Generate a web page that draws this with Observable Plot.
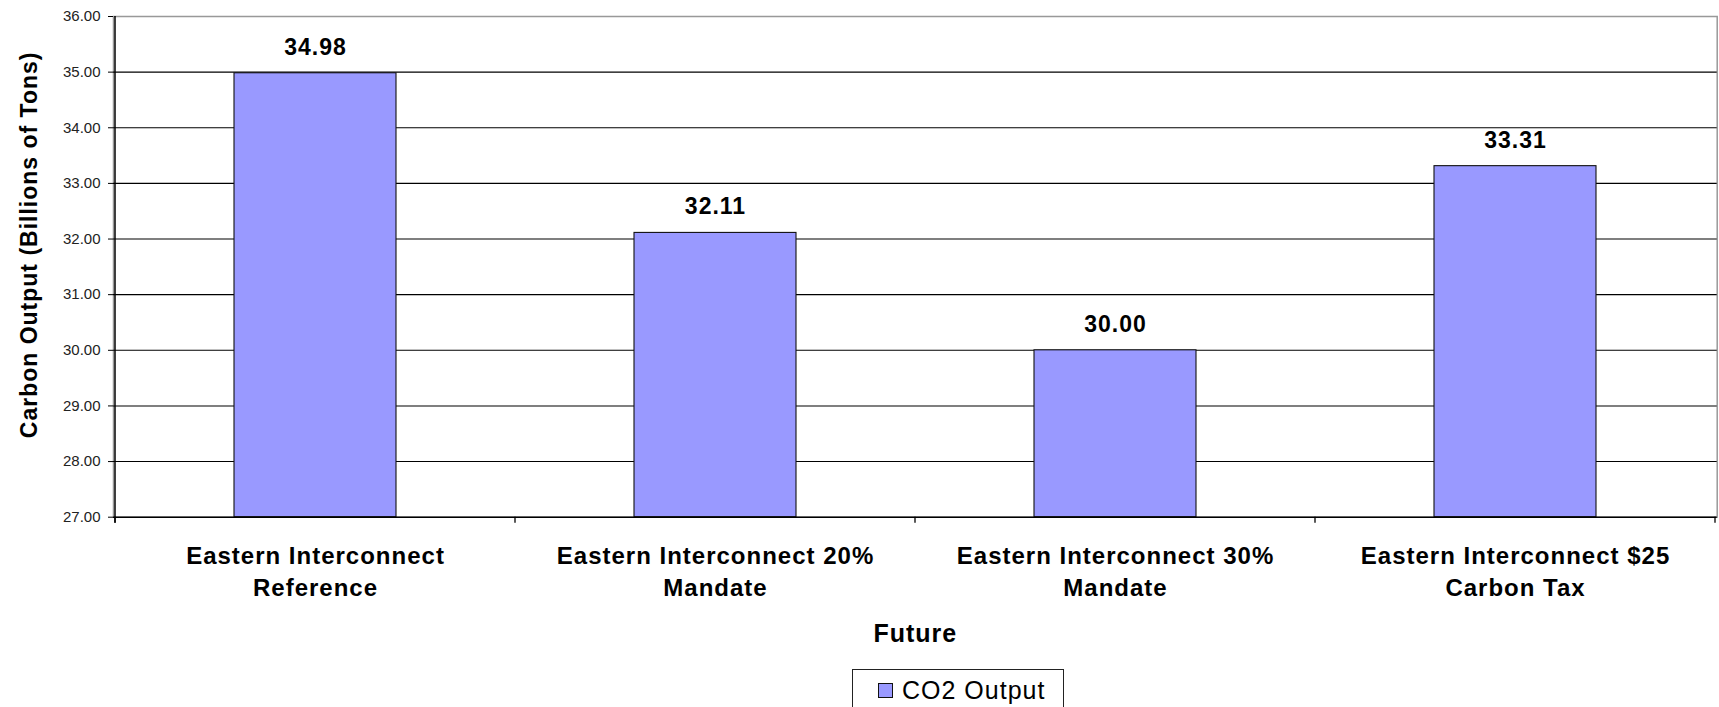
<!DOCTYPE html>
<html>
<head>
<meta charset="utf-8">
<script src="https://cdn.jsdelivr.net/npm/d3@7"></script>
<script src="https://cdn.jsdelivr.net/npm/@observablehq/plot@0.6"></script>
<style>
  html, body { margin: 0; padding: 0; background: #fff; overflow: hidden; }
  body { width: 1719px; height: 707px; position: relative; font-family: "Liberation Sans", Arial, Helvetica, sans-serif; }
  #chart svg text { letter-spacing: 1px; }
  #chart g[aria-label="y-axis tick label"] text { letter-spacing: 0; }
  #legend { position: absolute; left: 852px; top: 669px; width: 212px; height: 46px; border: 1px solid #222; box-sizing: border-box; background: #fff; }
  #legend .sw { position: absolute; left: 25px; top: 13px; width: 15px; height: 15px; box-sizing: border-box; border: 1px solid #111; background: #9999ff; }
  #legend .lb { position: absolute; left: 49px; top: 5px; font-size: 25px; line-height: 30px; letter-spacing: 1px; color: #000; white-space: nowrap; }
</style>
</head>
<body>
<div id="chart"></div>
<div id="legend"><div class="sw"></div><div class="lb"></div></div>
<script>
const categories = [
  "Eastern Interconnect\nReference",
  "Eastern Interconnect 20%\nMandate",
  "Eastern Interconnect 30%\nMandate",
  "Eastern Interconnect $25\nCarbon Tax"
];
const co2Output = [34.98, 32.11, 30.00, 33.31];
const yTicks = [27, 28, 29, 30, 31, 32, 33, 34, 35, 36];
const seriesName = "CO2 Output";
const yTitle = "Carbon Output (Billions of Tons)";
const xTitle = "Future";

const data = categories.map((c, i) => ({category: c, value: co2Output[i]}));
const fmt = d3.format(".2f");

const edgeMarks = (index, scales) => {
  const {x, y} = scales;
  const g = d3.create("svg:g");
  const y0 = y(yTicks[0]);
  const yTop = y(yTicks[yTicks.length - 1]);
  const edges = categories.map(c => x(c)).concat([x(categories[categories.length - 1]) + x.bandwidth()]);
  g.selectAll("line.t").data(edges).join("line")
    .attr("x1", d => d).attr("x2", d => d)
    .attr("y1", y0).attr("y2", y0 + 6)
    .attr("stroke", "#000").attr("stroke-width", 1.3);
  g.append("line")
    .attr("x1", edges[0]).attr("x2", edges[0])
    .attr("y1", yTop).attr("y2", y0 + 6)
    .attr("stroke", "#000").attr("stroke-width", 1.5);
  return g.node();
};

const chart = Plot.plot({
  width: 1719,
  height: 660,
  marginTop: 16,
  marginBottom: 143.3,
  marginLeft: 113,
  marginRight: 2.3,
  style: {fontFamily: "'Liberation Sans', Arial, Helvetica, sans-serif", background: "#fff", color: "#000"},
  x: {domain: categories, padding: 0},
  y: {domain: [yTicks[0], yTicks[yTicks.length - 1]]},
  marks: [
    Plot.frame({stroke: "#999", strokeWidth: 1.5}),
    Plot.ruleY(yTicks.slice(1, -1), {stroke: "#000", strokeWidth: 1.1}),
    Plot.barY(data, {x: "category", y1: yTicks[0], y2: "value", fill: "#9999ff", stroke: "#111", strokeWidth: 1.1, insetLeft: 119, insetRight: 119}),
    Plot.ruleY([yTicks[0]], {stroke: "#000", strokeWidth: 1.5}),
    edgeMarks,
    Plot.axisY({ticks: yTicks, tickFormat: fmt, tickSize: 5, tickPadding: 8, fontSize: 15, fill: "#222", stroke: "#000", label: null}),
    Plot.axisX({tickSize: 0, tickPadding: 24, fontSize: 24, fontWeight: "bold", lineHeight: 1.33, fill: "#000", label: null}),
    Plot.text(data, {x: "category", y: "value", text: d => fmt(d.value), dy: -26, fontSize: 23, fontWeight: "bold", fill: "#000"}),
    Plot.text([yTitle], {frameAnchor: "left", textAnchor: "middle", rotate: -90, dx: -84, dy: -22, fontSize: 23, fontWeight: "bold", fill: "#000"}),
    Plot.text([xTitle], {frameAnchor: "bottom", dy: 125, fontSize: 25, fontWeight: "bold", fill: "#000"})
  ]
});
document.getElementById("chart").appendChild(chart);
document.querySelector("#legend .lb").textContent = seriesName;
</script>
</body>
</html>
